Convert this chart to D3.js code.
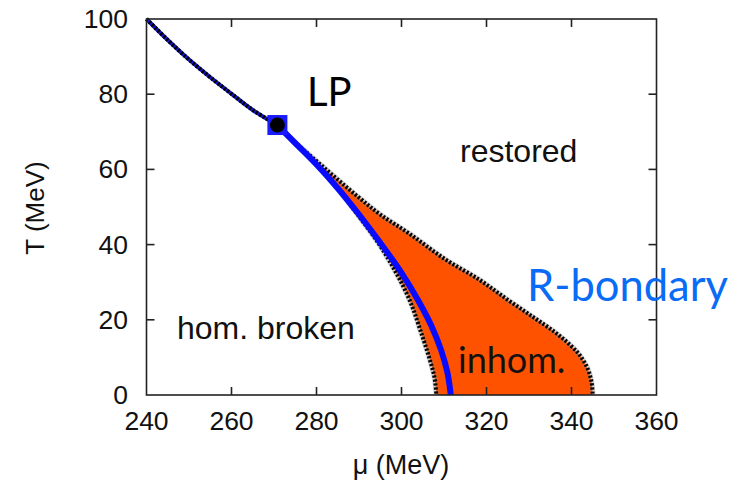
<!DOCTYPE html>
<html>
<head>
<meta charset="utf-8">
<script src="https://cdn.jsdelivr.net/npm/d3@7"></script>
<style>
  html, body { margin: 0; padding: 0; background: #fff; }
  svg { display: block; }
</style>
</head>
<body>
<svg id="chart" width="734" height="481"></svg>
<script>
// Phase diagram in the (mu, T) plane

// axis ticks
const muTicks = [240, 260, 280, 300, 320, 340, 360];
const tTicks = [0, 20, 40, 60, 80, 100];

// Lifshitz point [mu, T]
const lifshitzPoint = [270.8, 71.8];

// first-order line from mu = 240 down to the Lifshitz point
const firstOrderMu = [240, 245, 250, 255, 260, 265, 270.8];
const firstOrderT  = [100, 94.4, 89.2, 84.5, 80.1, 75.8, 71.8];

// blue boundary (R-boundary)
const blueMu = [270.8, 275, 280, 285, 290, 295, 300, 304, 307, 309.3, 310.8, 311.6];
const blueT  = [71.8, 67.0, 61.3, 55.0, 48.0, 40.5, 32.5, 25.0, 18.5, 12.0, 6.0, 0];

// lower-mu edge of the inhomogeneous phase
const innerMu = [270.8, 275, 280, 285, 290, 294.5, 298.5, 302, 304.5, 306.5, 307.7, 308.2];
const innerT  = [71.8, 67.0, 61.3, 54.8, 47.5, 40.5, 33.0, 25.0, 17.0, 10.0, 5.0, 0];

// higher-mu edge of the inhomogeneous phase
const outerMu = [270.8, 275, 280, 285, 290, 295, 302, 310, 318.4, 325, 331, 336, 339.5, 342, 343.8, 344.7, 345];
const outerT  = [71.8, 67.2, 62.2, 57.3, 52.5, 48.0, 42.8, 36.3, 30.6, 25.3, 20.7, 16.8, 13.5, 10.5, 7.0, 3.5, 0];

const svg = d3.select("#chart");
const x = d3.scaleLinear().domain([240, 360]).range([146.5, 656.5]);
const y = d3.scaleLinear().domain([0, 100]).range([395, 19]);

const pts = (m, t) => m.map((d, i) => [d, t[i]]);
const line = d3.line().x(d => x(d[0])).y(d => y(d[1])).curve(d3.curveMonotoneY);
const lineX = d3.line().x(d => x(d[0])).y(d => y(d[1])).curve(d3.curveCatmullRom);

const plot = svg.append("g");

// inhomogeneous region fill
const outer = pts(outerMu, outerT);
const inner = pts(innerMu, innerT);
const area = d3.line().x(d => x(d[0])).y(d => y(d[1])).curve(d3.curveLinear);
function dense(p, curve) {
  // sample a curve as a polyline through a temporary path
  const tmp = plot.append("path").attr("d", curve(p)).attr("fill", "none");
  const node = tmp.node(), L = node.getTotalLength(), out = [];
  for (let i = 0; i <= 200; i++) {
    const q = node.getPointAtLength(L * i / 200);
    out.push([x.invert(q.x), y.invert(q.y)]);
  }
  tmp.remove();
  return out;
}
const outerD = dense(outer, lineX);
const innerD = dense(inner, line);
plot.append("path")
  .attr("d", area(outerD.concat(innerD.slice().reverse())) + "Z")
  .attr("fill", "#ff5200");

// dotted phase boundaries
function dotted(d) {
  plot.append("path").attr("d", d).attr("fill", "none")
    .attr("stroke", "#888").attr("stroke-width", 5.5).attr("stroke-opacity", 0.35);
  plot.append("path").attr("d", d).attr("fill", "none")
    .attr("stroke", "#000").attr("stroke-width", 4)
    .attr("stroke-dasharray", "2.2,1.8");
}
dotted(line(inner));
dotted(lineX(outer));

// blue boundary
plot.append("path").attr("d", line(pts(blueMu, blueT)))
  .attr("fill", "none").attr("stroke", "#0a0aff").attr("stroke-width", 6);

// first-order line: blue under a black dotted stroke
const fo = lineX(pts(firstOrderMu, firstOrderT));
plot.append("path").attr("d", fo).attr("fill", "none")
  .attr("stroke", "#1515c8").attr("stroke-width", 4);
plot.append("path").attr("d", fo).attr("fill", "none")
  .attr("stroke", "#000").attr("stroke-width", 4).attr("stroke-dasharray", "2.2,1.8");

// Lifshitz point marker
plot.append("rect")
  .attr("x", x(lifshitzPoint[0]) - 10).attr("y", y(lifshitzPoint[1]) - 10)
  .attr("width", 20).attr("height", 20).attr("fill", "#1a1aff");
plot.append("circle")
  .attr("cx", x(lifshitzPoint[0])).attr("cy", y(lifshitzPoint[1]))
  .attr("r", 7.5).attr("fill", "#000");

// frame and inward ticks
const frame = svg.append("g").attr("stroke", "#222").attr("stroke-width", 1.6);
frame.append("rect")
  .attr("x", x(240)).attr("y", y(100))
  .attr("width", x(360) - x(240)).attr("height", y(0) - y(100))
  .attr("fill", "none");
muTicks.slice(1, -1).forEach(m => {
  frame.append("line").attr("x1", x(m)).attr("x2", x(m)).attr("y1", y(0)).attr("y2", y(0) - 8);
  frame.append("line").attr("x1", x(m)).attr("x2", x(m)).attr("y1", y(100)).attr("y2", y(100) + 8);
});
tTicks.slice(1, -1).forEach(t => {
  frame.append("line").attr("y1", y(t)).attr("y2", y(t)).attr("x1", x(240)).attr("x2", x(240) + 8);
  frame.append("line").attr("y1", y(t)).attr("y2", y(t)).attr("x1", x(360)).attr("x2", x(360) - 8);
});

// tick labels
const tickFont = "'Liberation Sans', Arial, sans-serif";
svg.append("g").selectAll("text").data(muTicks).join("text")
  .attr("x", d => x(d)).attr("y", 430)
  .attr("text-anchor", "middle").attr("font-family", tickFont)
  .attr("font-size", 26.5).attr("fill", "#111").text(d => d);
svg.append("g").selectAll("text").data(tTicks).join("text")
  .attr("x", 128).attr("y", d => y(d) + 9)
  .attr("text-anchor", "end").attr("font-family", tickFont)
  .attr("font-size", 26.5).attr("fill", "#111").text(d => d);

// axis titles
svg.append("text").attr("x", 401).attr("y", 474)
  .attr("text-anchor", "middle").attr("font-family", tickFont)
  .attr("font-size", 27).attr("fill", "#111").text("μ (MeV)");
svg.append("text")
  .attr("transform", "translate(44,208) rotate(-90)")
  .attr("text-anchor", "middle").attr("font-family", tickFont)
  .attr("font-size", 26).attr("fill", "#111").text("T (MeV)");

// region labels
const labels = [
  { text: "restored", x: 460, y: 162, size: 32, font: tickFont, color: "#111" },
  { text: "hom. broken", x: 177, y: 339, size: 32, font: tickFont, color: "#111" },
  { text: "inhom.", x: 458, y: 373, size: 36, font: "Lato, sans-serif", color: "#111" },
  { text: "LP", x: 307, y: 106, size: 40, font: "Lato, sans-serif", color: "#000" },
  { text: "R-bondary", x: 527, y: 301, size: 43.5, font: "Lato, sans-serif", color: "#0a6cf5" }
];
svg.append("g").selectAll("text").data(labels).join("text")
  .attr("x", d => d.x).attr("y", d => d.y)
  .attr("font-family", d => d.font).attr("font-size", d => d.size)
  .attr("fill", d => d.color).text(d => d.text);
</script>
</body>
</html>
